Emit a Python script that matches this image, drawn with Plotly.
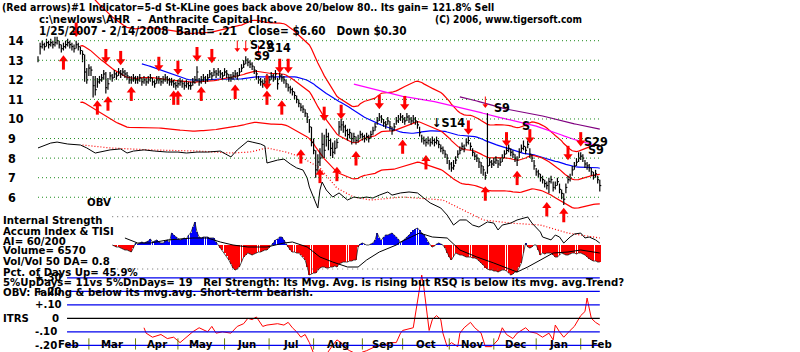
import plotly.graph_objects as go
import pandas as pd

W, H = 800, 352

# ---------------- DATA ----------------
close = [
 13.0,13.7,13.8,13.7,13.9,13.8,13.9,13.8,13.9,14.0,
 13.8,13.6,13.7,13.8,13.9,13.8,13.7,13.6,13.8,13.7,
 13.5,13.3,12.4,12.0,12.6,12.5,11.7,11.5,11.9,12.0,
 12.1,12.3,11.6,11.8,12.2,12.1,12.3,12.2,12.4,12.3,
 12.4,12.3,12.2,12.0,12.0,12.1,12.0,12.0,12.1,11.9,
 12.0,11.9,12.0,12.1,11.9,11.8,12.0,12.0,11.9,12.0,
 12.1,12.0,11.9,11.9,11.8,11.7,11.8,11.9,11.8,11.7,
 11.8,11.7,11.7,11.9,12.0,12.4,11.9,12.0,12.1,12.0,
 12.1,12.3,12.2,12.4,12.3,12.4,12.3,12.2,12.4,12.3,
 12.1,12.1,12.2,12.3,12.2,12.4,12.6,12.8,13.0,12.9,
 12.8,12.7,12.5,12.3,12.0,11.9,11.8,11.9,12.1,12.0,
 12.2,12.1,12.3,11.8,12.2,12.1,12.0,11.8,11.6,11.5,
 11.4,11.2,11.0,10.8,10.6,10.5,10.3,10.1,9.6,8.8,
 8.4,7.4,7.8,8.0,8.7,8.4,9.1,8.9,8.5,8.3,
 8.5,8.8,9.6,9.7,9.6,9.4,9.2,9.3,9.0,9.1,
 8.9,9.0,9.2,9.1,9.0,9.1,9.0,9.2,9.4,9.6,
 9.9,10.1,10.0,9.8,9.7,9.9,9.6,9.4,9.6,9.9,
 10.0,10.1,10.0,9.9,10.1,10.0,9.9,10.0,9.9,9.7,
 9.3,9.0,8.9,8.8,8.9,8.8,8.9,8.8,8.9,8.7,
 8.5,8.4,8.2,8.0,7.7,7.5,7.6,7.9,8.2,8.4,
 8.6,8.5,8.8,8.9,8.6,8.3,8.1,8.0,7.8,7.6,
 7.4,7.1,7.6,7.8,7.7,7.8,7.9,7.7,7.8,8.0,
 8.2,8.4,8.5,8.3,8.2,8.0,7.9,8.3,8.5,8.6,
 8.4,8.7,8.2,8.0,7.6,7.3,7.2,7.0,6.9,6.7,
 6.6,6.8,6.9,6.5,6.6,6.8,6.4,6.2,5.9,6.5,
 6.9,7.0,7.4,7.6,7.8,8.0,8.1,8.0,7.7,7.6,
 7.5,7.3,7.1,7.2,6.9,6.6]
high = [
 13.2,13.9,14.0,13.9,14.1,14.0,14.1,14.0,14.2,14.2,
 14.0,13.8,13.9,14.0,14.1,14.0,13.9,13.8,14.0,13.9,
 13.7,13.5,13.3,12.6,12.8,12.7,12.2,12.2,12.1,12.2,
 12.3,12.5,12.4,12.1,12.4,12.3,12.5,12.4,12.6,12.5,
 12.6,12.5,12.4,12.2,12.2,12.3,12.2,12.2,12.3,12.1,
 12.2,12.1,12.2,12.3,12.1,12.0,12.2,12.2,12.1,12.2,
 12.3,12.2,12.1,12.1,12.0,11.9,12.0,12.1,12.0,11.9,
 12.0,11.9,11.9,12.1,12.2,12.7,12.1,12.2,12.3,12.2,
 12.3,12.5,12.4,12.6,12.5,12.6,12.5,12.4,12.6,12.5,
 12.3,12.3,12.4,12.5,12.4,12.6,12.8,13.0,13.2,13.1,
 13.0,12.9,12.7,12.5,12.2,12.1,12.0,12.1,12.3,12.2,
 12.4,12.3,12.5,12.1,12.4,12.3,12.2,12.0,11.8,11.7,
 11.6,11.4,11.2,11.0,10.8,10.7,10.5,10.3,10.0,9.6,
 9.0,8.4,8.2,8.5,9.3,9.2,9.5,9.3,9.0,8.8,
 8.9,9.0,9.9,10.0,9.9,9.7,9.5,9.5,9.3,9.3,
 9.1,9.2,9.4,9.3,9.2,9.3,9.2,9.4,9.6,9.8,
 10.1,10.3,10.2,10.0,9.9,10.1,9.9,9.6,9.8,10.1,
 10.2,10.3,10.2,10.1,10.3,10.2,10.1,10.2,10.1,9.9,
 9.6,9.2,9.1,9.0,9.1,9.0,9.1,9.0,9.1,8.9,
 8.7,8.6,8.4,8.2,7.9,7.8,7.9,8.1,8.4,8.6,
 8.8,8.7,9.0,9.1,8.8,8.5,8.3,8.2,8.0,7.8,
 7.6,7.3,10.3,8.0,7.9,8.0,8.1,7.9,8.0,8.2,
 8.4,8.6,8.7,8.5,8.4,8.2,8.1,8.5,8.7,8.9,
 8.6,8.9,8.5,8.2,7.9,7.5,7.4,7.2,7.1,6.9,
 6.8,7.0,7.1,6.8,6.8,7.0,6.7,6.4,6.2,6.7,
 7.1,7.2,7.6,7.8,8.0,8.3,8.3,8.2,7.9,7.8,
 7.7,7.5,7.3,7.4,7.1,6.9]
low = [
 12.9,13.3,13.6,13.5,13.7,13.6,13.7,13.6,13.7,13.8,
 13.6,13.4,13.5,13.6,13.7,13.6,13.5,13.4,13.6,13.5,
 13.3,12.9,11.9,11.8,12.2,12.2,11.1,11.2,11.6,11.8,
 11.9,12.0,11.3,11.5,12.0,11.9,12.1,12.0,12.2,12.1,
 12.2,12.1,12.0,11.8,11.8,11.9,11.8,11.8,11.9,11.7,
 11.8,11.7,11.8,11.9,11.7,11.6,11.8,11.8,11.7,11.8,
 11.9,11.8,11.7,11.7,11.6,11.5,11.6,11.7,11.6,11.5,
 11.6,11.5,11.5,11.7,11.8,11.9,11.7,11.8,11.9,11.8,
 11.9,12.1,12.0,12.2,12.1,12.2,12.1,12.0,12.2,12.1,
 11.9,11.9,12.0,12.1,12.0,12.2,12.4,12.6,12.8,12.7,
 12.6,12.5,12.3,12.0,11.8,11.7,11.6,11.7,11.9,11.8,
 12.0,11.9,12.0,11.5,12.0,11.9,11.8,11.6,11.4,11.3,
 11.2,11.0,10.8,10.6,10.4,10.3,10.1,9.8,9.3,8.6,
 8.2,7.0,7.3,7.6,8.0,8.0,8.6,8.4,8.1,8.0,
 8.2,8.5,9.2,9.4,9.3,9.1,8.9,9.0,8.7,8.8,
 8.7,8.8,9.0,8.9,8.8,8.9,8.8,9.0,9.2,9.4,
 9.7,9.9,9.8,9.6,9.5,9.7,9.4,9.2,9.4,9.7,
 9.8,9.9,9.8,9.7,9.9,9.8,9.7,9.8,9.7,9.5,
 9.1,8.8,8.7,8.6,8.7,8.6,8.7,8.6,8.7,8.5,
 8.3,8.2,8.0,7.7,7.4,7.3,7.4,7.7,8.0,8.2,
 8.4,8.3,8.6,8.7,8.4,8.1,7.9,7.8,7.5,7.2,
 7.1,6.9,7.2,7.6,7.5,7.6,7.7,7.5,7.6,7.8,
 8.0,8.2,8.3,8.1,8.0,7.8,7.6,8.0,8.3,8.4,
 8.2,8.5,8.0,7.8,7.4,7.1,7.0,6.8,6.7,6.5,
 6.4,6.2,6.7,6.3,6.4,6.6,6.2,5.9,5.6,6.2,
 6.7,6.8,7.1,7.4,7.6,7.8,7.9,7.8,7.5,7.4,
 7.3,7.1,6.9,7.0,6.7,6.3]

# OBV (chart units, drawn in the price panel)
obv_idx = [0,6,9,14,20,23,27,29,34,39,42,45,50,55,61,66,70,75,80,86,91,94,99,101,105,107,
           108,113,116,119,122,125,127,128,130,132,133,134,136,139,142,146,149,152,155,158,
           161,165,167,171,175,179,182,185,190,193,196,199,202,205,208,212,215,217,219,223,
           226,231,233,237,238,242,244,246,248,251,253,256,258,260,263,265]
obv_val = [8.52,8.77,8.82,8.72,8.67,8.52,8.26,8.31,8.42,8.47,8.26,8.36,8.42,8.36,8.31,8.31,
           8.26,8.31,8.31,8.36,8.06,8.42,8.87,8.82,8.72,8.62,7.75,7.90,7.95,7.70,7.50,7.39,
           6.98,6.52,6.01,5.45,6.37,6.78,6.37,6.01,6.22,5.86,6.01,5.96,6.01,5.96,6.11,6.27,
           6.11,6.22,6.27,6.22,5.96,5.71,5.45,5.09,4.58,4.84,4.84,4.58,4.48,4.74,4.68,4.33,
           4.58,4.68,4.84,4.99,4.68,4.22,3.97,3.82,4.07,3.97,3.66,3.97,4.12,4.17,3.92,3.97,
           3.82,3.66]
obv_ma_idx = [21,34,53,76,91,100,108,117,124,133,141,149,157,172,191,210,223,237,250,265]
obv_ma_val = [8.67,8.52,8.42,8.36,8.26,8.31,8.52,8.31,8.06,7.50,6.47,6.01,5.86,6.01,5.86,
              4.84,4.68,4.58,4.17,3.92]

# Accumulation Index, daily from index 35
ai_start = 35
ai = [
 0.00,-0.01,-0.02,-0.02,-0.03,-0.04,-0.05,-0.05,-0.06,-0.07,
 -0.03,0.02,0.01,0.02,0.03,0.02,0.03,0.04,0.06,0.03,
 0.04,0.05,0.03,0.02,0.02,0.04,0.05,0.03,0.12,0.10,
 0.08,0.06,0.05,0.06,0.07,0.06,0.10,0.12,0.18,0.23,
 0.13,0.08,0.07,0.08,0.08,0.08,0.07,0.07,0.07,0.03,
 0.00,-0.03,-0.05,-0.08,-0.11,-0.15,-0.19,-0.23,-0.25,-0.24,
 -0.22,-0.17,-0.12,-0.10,-0.08,-0.09,-0.10,-0.09,-0.08,-0.07,
 -0.07,-0.06,-0.05,-0.05,-0.03,0.00,0.02,0.05,0.06,0.08,
 0.08,0.05,0.01,-0.02,-0.05,-0.07,-0.07,-0.08,-0.08,-0.10,
 -0.12,-0.15,-0.22,-0.30,-0.29,-0.28,-0.28,-0.25,-0.23,-0.22,
 -0.22,-0.23,-0.23,-0.22,-0.22,-0.21,-0.22,-0.19,-0.18,-0.17,
 -0.17,-0.17,-0.16,-0.16,-0.15,-0.15,-0.02,0.01,0.02,0.01,
 0.00,0.00,0.01,0.02,0.05,0.12,0.07,0.05,0.08,0.10,
 0.10,0.11,0.12,0.10,0.08,0.06,0.02,0.04,0.06,0.08,
 0.10,0.13,0.15,0.16,0.17,0.15,0.12,0.10,0.07,0.03,
 0.00,-0.02,-0.01,0.01,0.02,0.01,0.00,-0.03,-0.08,-0.12,
 -0.15,-0.12,-0.08,-0.09,-0.10,-0.10,-0.11,-0.12,-0.12,-0.12,
 -0.13,-0.13,-0.14,-0.16,-0.18,-0.20,-0.23,-0.24,-0.25,-0.25,
 -0.26,-0.26,-0.27,-0.26,-0.25,-0.25,-0.26,-0.28,-0.30,-0.29,
 -0.27,-0.27,-0.22,-0.18,-0.08,0.02,-0.02,-0.03,-0.02,0.00,
 0.00,-0.05,-0.10,-0.08,-0.09,-0.08,-0.08,-0.08,-0.10,-0.12,
 -0.12,-0.10,-0.08,-0.09,-0.10,-0.10,-0.09,-0.08,-0.08,-0.09,
 -0.08,-0.08,-0.09,-0.10,-0.12,-0.14,-0.15,-0.16,-0.16,-0.17,
 -0.17]
tisi_idx = [41,47,53,61,73,80,86,92,99,108,116,120,127,133,139,146,151,155,161,169,171,180,
            186,193,199,207,215,223,226,231,237,243,250,256,265]
tisi_val = [0.07,0.02,0.02,0.05,0.07,0.07,0.03,0.00,-0.02,-0.02,0.02,0.03,-0.02,-0.12,-0.17,
            -0.22,-0.22,-0.15,-0.07,0.00,0.03,0.12,0.08,0.07,-0.05,-0.12,-0.18,-0.25,-0.27,
            -0.22,-0.15,-0.08,-0.07,-0.05,-0.08]

# ITRS (relative strength)
itrs_idx = [50,51,54,58,61,64,67,70,73,76,80,82,84,87,91,94,97,99,101,103,106,108,113,116,
            118,120,122,124,126,128,130,132,135,139,141,143,144,147,151,153,155,159,163,166,
            169,171,172,177,179,181,182,184,184.5,186,188,190,191,193,195,198,199,201,204,
            206,209,211,214,217,219,221,224,226,230,232,235,238,241,243,244,246,248,251,
            253,256,258,259,261,263,265]
itrs_val = [-0.07,-0.11,-0.14,-0.12,-0.15,-0.14,-0.18,-0.14,-0.10,-0.07,-0.10,-0.06,-0.11,
            -0.10,-0.11,-0.06,-0.04,0.00,-0.01,0.01,-0.06,-0.05,-0.04,-0.05,-0.03,-0.07,
            -0.10,-0.14,-0.12,-0.18,-0.26,-0.32,-0.29,-0.20,-0.16,-0.18,-0.21,-0.24,-0.27,
            -0.25,-0.24,-0.21,-0.20,-0.18,-0.18,-0.11,-0.09,-0.07,0.14,0.32,0.23,0.00,-0.09,
            -0.01,0.02,-0.01,-0.11,-0.21,-0.18,-0.21,-0.11,-0.07,-0.03,-0.07,-0.11,-0.21,
            -0.21,-0.16,-0.07,-0.12,-0.15,-0.11,-0.07,-0.10,-0.11,-0.14,-0.11,-0.16,-0.05,
            -0.10,-0.14,-0.09,-0.06,0.02,0.05,0.15,0.00,-0.03,-0.05]

# Signals
up_idx = [12,28,33,44,64,66,77,93,108,115,124,133,141,150,172,183,211,226,240,248]
up_lvl = [12.9,10.6,10.8,11.3,11.1,11.1,11.3,11.4,11.1,10.6,8.1,7.1,7.2,8.0,8.6,7.8,6.2,7.0,5.4,5.1]
dn_idx = [18,32,39,57,66,75,82,108,114,118,135,143,161,173,203,221,232,250,256]
dn_lvl = [14.55,13.2,13.1,12.8,12.6,13.3,13.2,11.85,12.7,12.7,10.25,10.35,10.85,10.8,9.55,8.95,9.1,8.25,8.95]
thin_dn_idx = [94, 98, 104, 211]
thin_dn_lvl = [13.68, 13.68, 13.42, 10.82]

month_names = ["Feb", "Mar", "Apr", "May", "Jun", "Jul", "Aug", "Sep", "Oct", "Nov", "Dec", "Jan", "Feb"]
month_start = [5, 24, 46, 66, 88, 109, 130, 153, 172, 194, 215, 235, 256, 276]
price_ticks = [14, 13, 12, 11, 10, 9, 8, 7, 6]
itrs_levels = [0.30, 0.20, 0.10, -0.10, -0.20]
itrs_labels = {"+.30": 0.30, "+.20": 0.20, "+.10": 0.10, "0": 0.0, "-.10": -0.10, "-.20": -0.20}

# ---------------- derived series ----------------
idx = list(range(len(close)))
s = pd.Series(close)
ma21 = s.rolling(21).mean()
band = 0.21
upper = ma21 * (1 + band)
lower = ma21 * (1 - band)
ma50 = s.rolling(50).mean()
ma150 = s.rolling(150).mean()
ma200 = s.rolling(200).mean()

# ---------------- scales ----------------
X0, DX = 38.0, 2.12            # pixel of first bar, pixels per trading day
P14, PPD = 40.7, 19.57         # pixel of $14 line, pixels per dollar
AI0, AIS = 245.0, 100.0        # AI zero pixel, pixels per unit
IT0, ITS = 318.3, 135.0        # ITRS zero pixel, pixels per unit
xr = [-X0 / DX, (W - X0) / DX]
yr_price = [14 - (H - P14) / PPD, 14 + P14 / PPD]
yr_ai = [(AI0 - H) / AIS, AI0 / AIS]
yr_it = [(IT0 - H) / ITS, IT0 / ITS]

FONT = "Liberation Sans Narrow, Arial Narrow, DejaVu Sans Condensed, sans-serif"
FS = 11.3

fig = go.Figure()

# price grid
for p in price_ticks:
    fig.add_shape(type="line", x0=0, x1=len(close) - 1, y0=p, y1=p, xref="x", yref="y",
                  line=dict(color="#1e8c1e", width=1, dash="1px,3px"))
# AI panel dotted bounds
for a in [0.283, -0.24]:
    fig.add_shape(type="line", x0=ai_start, x1=len(close) - 1, y0=a, y1=a, xref="x", yref="y2",
                  line=dict(color="#666666", width=1, dash="1px,4px"))
# ITRS levels
for lv in itrs_levels:
    fig.add_shape(type="line", x0=13.7, x1=len(close) - 1, y0=lv, y1=lv, xref="x", yref="y3",
                  line=dict(color="#0000ee", width=1.3))
fig.add_shape(type="line", x0=13.7, x1=len(close) - 1, y0=0, y1=0, xref="x", yref="y3",
              line=dict(color="black", width=1.3))

# bands and moving averages
fig.add_trace(go.Scatter(x=idx, y=upper, mode="lines", line=dict(color="#ff0000", width=1.2)))
fig.add_trace(go.Scatter(x=idx, y=lower, mode="lines", line=dict(color="#ff0000", width=1.2)))
fig.add_trace(go.Scatter(x=idx, y=ma150, mode="lines", line=dict(color="#ff00ff", width=1.2)))
fig.add_trace(go.Scatter(x=idx, y=ma200, mode="lines", line=dict(color="#800080", width=1.2)))
fig.add_trace(go.Scatter(x=idx, y=ma50, mode="lines", line=dict(color="#0000ff", width=1.2)))
fig.add_trace(go.Scatter(x=idx, y=ma21, mode="lines", line=dict(color="#ff0000", width=1.2)))

# OBV
fig.add_trace(go.Scatter(x=obv_ma_idx, y=obv_ma_val, mode="lines",
                         line=dict(color="#ff0000", width=1.2, dash="1px,2px")))
fig.add_trace(go.Scatter(x=obv_idx, y=obv_val, mode="lines", line=dict(color="black", width=1)))

# price bars (high-low with close tick)
bx, by = [], []
for i, (h, l, c) in enumerate(zip(high, low, close)):
    bx += [i, i, None, i, i + 0.7, None]
    by += [l, h, None, c, c, None]
fig.add_trace(go.Scatter(x=bx, y=by, mode="lines", line=dict(color="black", width=1.2)))

# arrows
red = "#ff0000"
u = 1.0 / PPD
fig.add_trace(go.Scatter(x=up_idx, y=[v - 2.5 * u for v in up_lvl], mode="markers",
                         marker=dict(symbol="line-ns", size=7, line=dict(color=red, width=3))))
fig.add_trace(go.Scatter(x=up_idx, y=[v + 3 * u for v in up_lvl], mode="markers",
                         marker=dict(symbol="triangle-up", size=8, color=red)))
fig.add_trace(go.Scatter(x=dn_idx, y=[v + 2.5 * u for v in dn_lvl], mode="markers",
                         marker=dict(symbol="line-ns", size=7, line=dict(color=red, width=3))))
fig.add_trace(go.Scatter(x=dn_idx, y=[v - 3 * u for v in dn_lvl], mode="markers",
                         marker=dict(symbol="triangle-down", size=8, color=red)))
fig.add_trace(go.Scatter(x=thin_dn_idx, y=[v + 1.5 * u for v in thin_dn_lvl], mode="markers",
                         marker=dict(symbol="line-ns", size=7, line=dict(color=red, width=1))))
fig.add_trace(go.Scatter(x=thin_dn_idx, y=[v - 2.5 * u for v in thin_dn_lvl], mode="markers",
                         marker=dict(symbol="triangle-down", size=5, color=red)))

# AI histogram
ai_x = list(range(ai_start, ai_start + len(ai)))
fig.add_trace(go.Bar(x=ai_x, y=ai, yaxis="y2", width=0.45,
                     marker=dict(color=["#0000ff" if v >= 0 else "#ff0000" for v in ai], line_width=0)))
fig.add_trace(go.Scatter(x=ai_x, y=ai, yaxis="y2", mode="lines", line=dict(color="#222222", width=0.8)))
fig.add_trace(go.Scatter(x=tisi_idx, y=tisi_val, yaxis="y2", mode="lines",
                         line=dict(color="black", width=1)))

# ITRS
fig.add_trace(go.Scatter(x=itrs_idx, y=itrs_val, yaxis="y3", mode="lines",
                         line=dict(color="#ff0000", width=1)))
# month tick marks
fig.add_trace(go.Scatter(x=month_start[1:-1], y=[-0.19] * (len(month_start) - 2), yaxis="y3",
                         mode="markers", marker=dict(symbol="line-ns", size=8,
                                                     line=dict(color="#6b7f00", width=1))))

anns = []
def txt(s, xpx, ypx, anchor="left", color="black", size=FS):
    anns.append(dict(text=s, x=xpx / W, y=1 - ypx / H, xref="paper", yref="paper",
                     xanchor=anchor, yanchor="middle", showarrow=False,
                     font=dict(family=FONT, size=size, color=color, weight="bold")))

txt("(Red arrows)#1 Indicator=5-d St-KLine goes back above 20/below 80.. Its gain= 121.8% Sell", 0, 7, size=10.5)
txt("c:\\newlows\\AHR  -  Anthracite Capital Inc.", 37, 20)
txt("(C) 2006, www.tigersoft.com", 433, 20, size=10.1)
txt("1/25/2007 - 2/14/2008  Band= .21   Close= $6.60   Down $0.30", 37, 31, size=11.7)
for p in price_ticks:
    anns.append(dict(text=str(p), x=6 / W, y=p, xref="paper", yref="y", xanchor="left",
                     yanchor="middle", showarrow=False,
                     font=dict(family=FONT, size=12.5, color="black", weight="bold")))
txt("OBV", 85, 202)
txt("Internal Strength", 1, 220)
txt("Accum Index & TISI", 1, 231)
txt("AI= 60/200", 1, 241)
txt("Volume= 6570", 1, 251)
txt("Vol/Vol 50 DA= 0.8", 1, 261)
for lab, v in itrs_labels.items():
    anns.append(dict(text=lab, x=(50 if lab == "0" else 33) / W, y=v, xref="paper", yref="y3",
                     xanchor="left", yanchor="middle", showarrow=False,
                     font=dict(family=FONT, size=FS, color="black", weight="bold")))
txt("Pct. of Days Up= 45.9%", 1, 272)
txt("5%UpDays= 11vs 5%DnDays= 19   Rel Strength: Its Mvg. Avg. is rising but RSQ is below its mvg. avg.Trend?", 1, 282)
txt("OBV: Falling & below its mvg.avg. Short-term bearish.", 1, 292)
txt("ITRS", 1, 318)
for k, name in enumerate(month_names):
    mid = (month_start[k] + month_start[k + 1]) / 2
    anns.append(dict(text=name, x=mid, y=1 - 344.5 / H, xref="x", yref="paper", xanchor="center",
                     yanchor="middle", showarrow=False,
                     font=dict(family=FONT, size=FS, color="black", weight="bold")))
# signal labels
txt("S29", 248, 44, size=12.5)
txt("S14", 265, 47, size=12.5)
txt("S9", 252, 55, size=12.5)
txt("\u2193S14", 430, 123, size=12.5)
txt("S9", 492, 107, size=12.5)
txt("S", 520, 126, size=12.5)
txt("S29", 582, 141, size=12.5)
txt("S9", 586, 149, size=12.5)

fig.update_layout(
    width=W, height=H, margin=dict(l=0, r=0, t=0, b=0, pad=0),
    paper_bgcolor="white", plot_bgcolor="white", showlegend=False,
    bargap=0, barmode="overlay",
    xaxis=dict(range=xr, visible=False, fixedrange=True),
    yaxis=dict(range=yr_price, visible=False, domain=[0, 1]),
    yaxis2=dict(range=yr_ai, visible=False, overlaying="y"),
    yaxis3=dict(range=yr_it, visible=False, overlaying="y"),
    annotations=anns,
)
fig.write_html("out.html")
